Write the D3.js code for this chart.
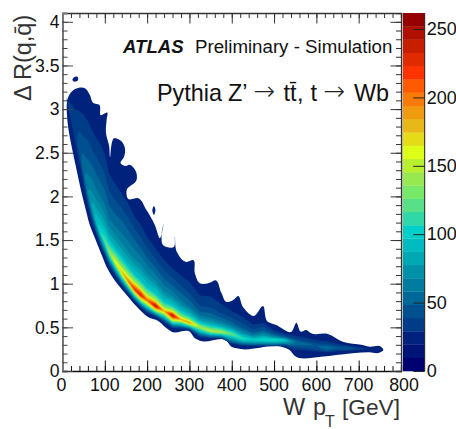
<!DOCTYPE html>
<html><head><meta charset="utf-8">
<script src="https://cdn.jsdelivr.net/npm/d3@7"></script>
<style>html,body{margin:0;padding:0;background:#fff}svg{display:block}text{font-family:"Liberation Sans",Arial,sans-serif;fill:#111}</style>
</head><body>
<svg id="c" width="456" height="429"></svg>
<script>
const xTicks=[0,100,200,300,400,500,600,700,800];
const yTicks=[0,0.5,1,1.5,2,2.5,3,3.5,4];
const zTicks=[0,50,100,150,200,250];
const palette=["#000070","#001478","#00227c","#003c88","#005090","#006898","#007ca0","#0090a8","#00a8b4","#00bcc0","#00d0c8","#30d8a8","#58e088","#78e868","#98e850","#b8f030","#deff18","#e4dc18","#e8b818","#f09a10","#f87a08","#ff5a00","#ff3300","#e02a00","#c81e00","#b01000","#950000"];
const zMax=261.7;
// sampled columns of W pT
const pT=[10,20,30,40,50,60,70,80,90,100,110,125,140,155,170,185,200,220,240,260,280,300,325,350,375,400,425,450,475,500,525,550,575,600,625,650,675,700,725,750];
// lower edge, crest and inner upper limit of the band, in Delta R
const lowerEdge=[3.02,2.66,2.38,2.15,1.94,1.75,1.60,1.48,1.36,1.25,1.145,1.03,.934,.848,.767,.693,.63,.59,.527,.458,.452,.45,.355,.35,.35,.278,.26,.26,.26,.26,.26,.178,.172,.166,.172,.189,.2,.206,.214,.212];
const crest=[3.10,2.90,2.70,2.51,2.28,2.05,1.87,1.71,1.58,1.48,1.363,1.249,1.134,1.031,.939,.871,.813,.745,.687,.636,.59,.553,.504,.458,.447,.424,.372,.355,.355,.355,.355,.332,.309,.286,.263,.263,.263,.258,.252,.246];
const upperLimit=[3.196,3.219,3.219,3.219,3.219,3.184,3.104,3.047,2.967,2.818,2.554,2.417,2.325,2.211,2.073,1.959,1.821,1.661,1.5,1.386,1.294,1.203,1.008,1.008,.893,.813,.779,.653,.722,.55,.493,.47,.458,.435,.424,.367,.332,.309,.286,.275];
// where each row sits: below crest as a share of lower edge to crest, above crest as a share of crest to upper limit
const rowsBelow=[0,.35,.7,1];
const rowsAbove=[.07,.15,.3,.5,.7,.85,1];
// entries per cell: one line per pT column, rows from lower edge upward
const counts=[
[0,12,24,30,30,30,29,26,22,18,12],
[0,12,24,31,31,31,30,29,24,18,12],
[0,14,28,35,35,35,34,31,26,20,12],
[0,14,30,43,43,42,40,33,28,20,12],
[0,16,38,55,54,52,44,36,29,21,12],
[0,20,46,68,65,60,50,40,30,22,12],
[0,24,55,80,76,68,55,41,30,22,14],
[0,28,65,94,86,72,56,42,30,22,14],
[0,30,72,108,94,78,58,42,31,22,14],
[0,34,80,120,100,80,60,44,32,23,14],
[0,36,88,138,108,82,60,44,32,24,15],
[0,40,105,165,118,86,62,46,32,25,16],
[0,46,115,178,125,90,64,48,32,24,16],
[0,50,125,198,135,92,66,48,32,24,15],
[0,55,140,226,145,96,68,48,31,23,15],
[0,58,150,240,150,98,70,48,31,23,15],
[0,55,135,205,135,96,68,46,30,22,14],
[0,58,155,248,150,100,70,46,30,22,14],
[0,50,120,185,125,92,64,44,30,22,14],
[0,58,155,250,150,98,66,44,30,22,14],
[0,46,115,185,125,90,60,42,30,22,14],
[0,50,120,192,125,88,56,40,30,22,14],
[0,46,100,145,108,80,52,38,30,22,14],
[0,46,102,150,115,84,54,38,30,22,14],
[0,46,102,148,115,84,54,38,30,22,14],
[0,45,90,125,105,80,52,38,28,20,14],
[0,40,85,112,96,74,48,34,26,20,14],
[0,38,78,100,90,70,46,32,26,20,14],
[0,38,82,105,95,74,48,30,24,20,14],
[0,40,85,110,98,76,50,32,24,20,14],
[0,36,78,100,85,68,45,30,22,18,12],
[0,24,45,58,54,48,38,30,22,18,12],
[0,22,42,52,50,45,36,28,22,18,12],
[0,20,40,48,46,42,35,28,22,18,12],
[0,24,46,58,55,48,38,28,22,18,12],
[0,20,40,48,46,42,34,27,22,18,12],
[0,20,40,48,46,42,34,26,22,18,12],
[0,18,30,36,35,33,28,24,20,16,12],
[0,16,25,28,28,26,24,20,18,14,10],
[0,12,20,22,22,20,18,16,14,12,10]];
// outer outline of the filled area [pT, Delta R]
const outline=[[9.9,3.03],[13.7,3.14],[29.5,3.23],[53.1,3.24],[64.9,3.16],[72.7,3.07],[86.9,3.05],[90.9,2.93],[105.8,2.96],[104.4,2.88],[102.7,2.73],[110.5,2.57],[112.2,2.45],[124,2.67],[139.8,2.63],[147.6,2.55],[145.2,2.45],[137.4,2.38],[151.6,2.35],[155.4,2.36],[175.2,2.26],[175.2,2.19],[151.6,2.07],[155.4,1.97],[179,1.98],[198.8,1.84],[218.4,1.67],[230.2,1.52],[239.7,1.70],[234.2,1.56],[238,1.44],[263.3,1.42],[265.6,1.54],[269.7,1.37],[293.3,1.25],[308.9,1.27],[312.9,1.12],[324.7,1.005],[352.3,1.02],[360,1.04],[375.9,.89],[387.7,.79],[402.6,.81],[414.4,.86],[426.2,.736],[452.2,.63],[473.4,.745],[485.2,.565],[504.8,.527],[541.2,.45],[553,.553],[563.9,.45],[575.7,.47],[587.5,.432],[626.9,.424],[662.3,.336],[709.6,.298],[725.4,.278],[752.8,.278],[758.4,.24],[749,.21],[725.4,.214],[658.3,.19],[611,.164],[548.3,.175],[536.5,.24],[528.4,.26],[411.3,.26],[399.5,.278],[387.7,.347],[324.7,.347],[312.9,.375],[301,.45],[257.9,.45],[246,.489],[222.4,.584],[206.6,.607],[183,.70],[151.6,.87],[131.8,.985],[108.1,1.157],[92.6,1.33],[76.7,1.52],[60.9,1.73],[57.1,1.806],[45.3,2.035],[33.5,2.30],[21.7,2.57],[13.7,2.78],[9.9,3.02]];
const spotA=[[23.6,3.33],[29.5,3.37],[35.4,3.37],[36.6,3.33],[27,3.315]];
const spotB=[[216,1.89],[219.6,1.844],[216,1.787],[212.4,1.844]];

const L=62.5,R=401,B=371,T=13,CL=403,CR=424.7;
const x=d3.scaleLinear().domain([0,800]).range([L,R]);
const y=d3.scaleLinear().domain([0,4.1]).range([B,B-4.1*87.3]);
const z=d3.scaleLinear().domain([0,zMax]).range([B,T]);
const svg=d3.select("#c");
const defs=svg.append("defs");
defs.append("filter").attr("id","soft").attr("x","-5%").attr("y","-5%").attr("width","110%").attr("height","110%")
  .append("feGaussianBlur").attr("stdDeviation",0.55);
const plot=svg.append("g").attr("filter","url(#soft)");

const line=d3.line().x(d=>x(d[0])).y(d=>y(d[1])).curve(d3.curveCatmullRomClosed.alpha(1));
[outline,spotA,spotB].forEach(p=>plot.append("path").attr("d",line(p)).attr("fill",palette[2]));

const nCols=pT.length,rows=rowsBelow.length+rowsAbove.length;
const values=[];
for(let j=0;j<rows;j++)for(let i=0;i<nCols;i++)values.push(counts[i][j]);
const drAt=(i,j)=>j<rowsBelow.length
  ? lowerEdge[i]+rowsBelow[j]*(crest[i]-lowerEdge[i])
  : crest[i]+rowsAbove[j-rowsBelow.length]*(upperLimit[i]-crest[i]);
const project=d3.geoTransform({point(gx,gy){
  const u=Math.max(0,Math.min(nCols-1,gx-.5)),v=Math.max(0,Math.min(rows-1,gy-.5));
  const i=Math.min(nCols-2,Math.floor(u)),j=Math.min(rows-2,Math.floor(v));
  const a=u-i,b=v-j;
  const d0=drAt(i,j)*(1-b)+drAt(i,j+1)*b,d1=drAt(i+1,j)*(1-b)+drAt(i+1,j+1)*b;
  const xv=pT[i]*(1-a)+pT[i+1]*a,yv=d0*(1-a)+d1*a;
  this.stream.point(x(xv),y(yv));
}});
const bandW=zMax/palette.length;
const levels=d3.range(3,palette.length);
const contours=d3.contours().size([nCols,rows]).thresholds(levels.map(k=>k*bandW))(values);
const gp=d3.geoPath(project);
plot.selectAll("path.band").data(contours).join("path").attr("class","band")
  .attr("d",gp).attr("fill",(d,i)=>palette[levels[i]]);

// colour bar
svg.append("g").selectAll("rect").data(palette).join("rect")
  .attr("x",CL).attr("width",CR-CL)
  .attr("y",(d,i)=>z((i+1)*bandW)).attr("height",(d,i)=>z(i*bandW)-z((i+1)*bandW)+.3)
  .attr("fill",d=>d);
svg.append("line").attr("x1",CR).attr("x2",CR).attr("y1",T).attr("y2",B).attr("stroke","#222").attr("stroke-width",1);
svg.append("line").attr("x1",CL-.5).attr("x2",CL-.5).attr("y1",T).attr("y2",B).attr("stroke","#ccc").attr("stroke-width",1);
const zAxis=d3.axisRight(z).tickValues(zTicks).tickSize(-11.5).tickPadding(14).tickFormat(d3.format("d"));
const zg=svg.append("g").attr("transform",`translate(${CR},0)`).call(zAxis);
zg.select(".domain").remove();
zg.selectAll(".tick line").attr("stroke","#222");
zg.selectAll("text").attr("x",2).attr("font-size",18).attr("font-family","Liberation Sans").attr("text-anchor","start");

// frame axes with inward ticks
function frame(gen,tr,sub,sizeMin,col){
  const g=svg.append("g").attr("transform",tr);
  g.call(gen.tickValues(sub).tickSize(sizeMin).tickFormat(""));
  g.selectAll(".tick line").attr("stroke",col).attr("stroke-width",1);
  g.select(".domain").attr("stroke",col).attr("stroke-width",1.3);
  return g;
}
const xMinor=d3.range(0,801,20),yMinor=d3.range(0,41).map(d=>d/10);
const addMajor=(g,gen,ticks,size,col)=>{
  const m=svg.append("g").attr("transform",g.attr("transform"));
  m.call(gen.tickValues(ticks).tickSize(size).tickFormat(()=>""));
  m.select(".domain").remove();
  m.selectAll(".tick line").attr("stroke",col).attr("stroke-width",1);
  return m;
};
const gB=frame(d3.axisBottom(x),`translate(0,${B})`,xMinor,-5,"#111");
addMajor(gB,d3.axisBottom(x),xTicks,-10.5,"#111");
const gT=frame(d3.axisTop(x),`translate(0,${T})`,xMinor,-5,"#333");
addMajor(gT,d3.axisTop(x),xTicks,-10.5,"#333");
const gL=frame(d3.axisLeft(y),`translate(${L},0)`,yMinor,-5,"#444");
addMajor(gL,d3.axisLeft(y),yTicks,-10.5,"#444");
gL.select(".domain").attr("stroke","#777").attr("stroke-width",2);
const gR=frame(d3.axisRight(y),`translate(${R},0)`,yMinor,-5,"#333");
addMajor(gR,d3.axisRight(y),yTicks,-10.5,"#333");

// tick labels
svg.append("g").selectAll("text").data(xTicks).join("text")
  .attr("x",d=>x(d)+(d===800?3:d===0?-1:0)).attr("y",391).attr("text-anchor","middle").attr("font-size",17.8)
  .text(d=>d);
svg.append("g").selectAll("text").data(yTicks).join("text")
  .attr("x",59.5).attr("y",d=>y(d)+6.3).attr("text-anchor","end").attr("font-size",17.6)
  .text(d=>d);

// titles
const yt=svg.append("text").attr("transform","translate(31,101) rotate(-90)").attr("font-size",23.5).attr("style","fill:#333");
yt.text("Δ R(q,q\u0304)");
const xt=[["W",283,414.5,23.5],["p",313,414.5,23.5],["T",325,426.5,16],["[GeV]",342,414.5,22.7]];
svg.append("g").selectAll("text").data(xt).join("text")
  .attr("x",d=>d[1]).attr("y",d=>d[2]).attr("font-size",d=>d[3]).attr("style","fill:#333").text(d=>d[0]);

svg.append("text").attr("x",123).attr("y",52.7).attr("font-size",18.6).attr("font-weight","bold").attr("font-style","italic").text("ATLAS");
svg.append("text").attr("x",195).attr("y",52.7).attr("font-size",18.7).text("Preliminary - Simulation");
const head=[["Pythia",157],["Z’",228],["t",283.5],["t\u0304",290],[",",297],["t",310.5],["Wb",354]];
svg.append("g").selectAll("text").data(head).join("text")
  .attr("x",d=>d[1]).attr("y",101).attr("font-size",23.4).text(d=>d[0]);
svg.append("g").selectAll("text").data([253.5,323.5]).join("text")
  .attr("x",d=>d).attr("y",100).attr("font-size",26).attr("style",'font-family:"DejaVu Sans";font-weight:200;fill:#222').text("→");
</script>
</body></html>
